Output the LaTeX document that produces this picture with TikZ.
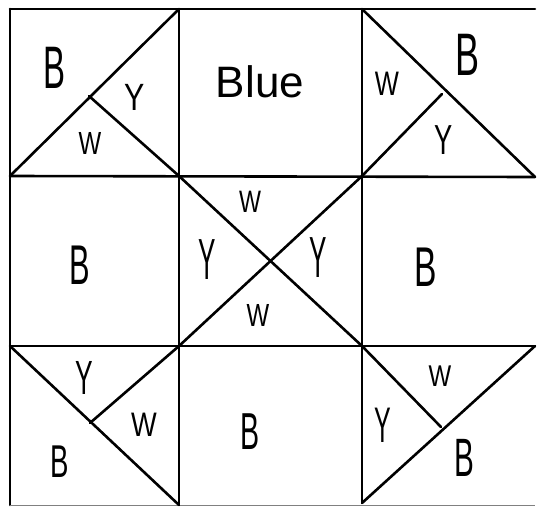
\documentclass[tikz,border=0pt]{standalone}
\usepackage{fontspec}
\usepackage{graphicx}
\setmainfont{Liberation Sans}
\newcommand{\handlab}[3]{\fontsize{#1}{#1}\selectfont\scalebox{#2}[1]{#3}}
\begin{document}
\begin{tikzpicture}[x=1pt,y=-1pt,
  ln/.style={line width=2.6pt, line cap=round},
  edge/.style={line width=1pt, gray},
  lab/.style={inner sep=0pt, outer sep=0pt}]
\useasboundingbox (0,0) rectangle (537,506);
% grid coordinates
\coordinate (a00) at (10,9);   \coordinate (a10) at (179,9);   \coordinate (a20) at (362,9);   \coordinate (a30) at (535,9);
\coordinate (a01) at (10,176); \coordinate (a11) at (179,176); \coordinate (a21) at (362,176); \coordinate (a31) at (535,177);
\coordinate (a02) at (10,346); \coordinate (a12) at (179,346); \coordinate (a22) at (362,346); \coordinate (a32) at (535,346);
\coordinate (a03) at (10,505); \coordinate (a13) at (179,505); \coordinate (a23) at (362,503); \coordinate (a33) at (535,505);
\coordinate (mtl) at (89,96);
\coordinate (mtr) at (442,94);
\coordinate (mbl) at (90,423);
\coordinate (mbr) at (441,427);
% outer frame
\draw[ln] (a00) -- (a30);
\draw[ln] (a00) -- (a03);
\draw[edge] (a03) -- (a33);
% grid lines
\draw[ln] (a10) -- (a13);
\draw[ln] (a20) -- (a23);
\draw[ln] (a01) -- (a31);
\draw[ln] (a02) -- (a32);
% top-left block
\draw[ln] (a01) -- (a10);
\draw[ln] (mtl) -- (a11);
% top-right block
\draw[ln] (a20) -- (a31);
\draw[ln] (mtr) -- (a21);
% centre block
\draw[ln] (a11) -- (a22);
\draw[ln] (a12) -- (a21);
% bottom-left block
\draw[ln] (a02) -- (a13);
\draw[ln] (mbl) -- (a12);
% bottom-right block
\draw[ln] (a23) -- (a32);
\draw[ln] (a22) -- (mbr);
% labels
\node[lab] (l1) at (55,68) {\handlab{60}{0.55}{B}};
\node[lab] (l2) at (135,97) {\handlab{38}{0.8}{Y}};
\node[lab] (l3) at (90,143) {\handlab{32}{0.75}{W}};
\node[lab] (l4) at (260,82) {\handlab{44}{1}{Blue}};
\node[lab] (l5) at (387,84) {\handlab{34}{0.75}{W}};
\node[lab] (l6) at (467,55) {\handlab{60}{0.6}{B}};
\node[lab] (l7) at (444,140) {\handlab{42}{0.65}{Y}};
\node[lab] (l8) at (80,265) {\handlab{56}{0.55}{B}};
\node[lab] (l9) at (250,202) {\handlab{31}{0.75}{W}};
\node[lab] (l10) at (207,260) {\handlab{58}{0.45}{Y}};
\node[lab] (l11) at (318,258) {\handlab{58}{0.45}{Y}};
\node[lab] (l12) at (258,315) {\handlab{32}{0.75}{W}};
\node[lab] (l13) at (426,267) {\handlab{56}{0.6}{B}};
\node[lab] (l14) at (84,378) {\handlab{48}{0.55}{Y}};
\node[lab] (l15) at (144,425) {\handlab{34}{0.8}{W}};
\node[lab] (l16) at (60,462) {\handlab{46}{0.6}{B}};
\node[lab] (l17) at (250,432) {\handlab{52}{0.55}{B}};
\node[lab] (l18) at (440,376) {\handlab{30}{0.8}{W}};
\node[lab] (l19) at (383,425) {\handlab{50}{0.5}{Y}};
\node[lab] (l20) at (464,458) {\handlab{54}{0.55}{B}};
\end{tikzpicture}
\end{document}
